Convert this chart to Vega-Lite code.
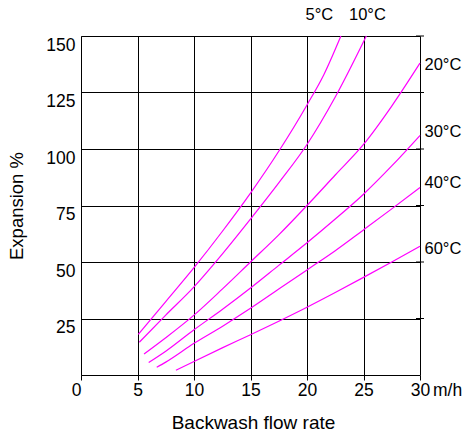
{
  "$schema": "https://vega.github.io/schema/vega-lite/v6.json",
  "width": 339,
  "height": 339,
  "autosize": {"type": "none"},
  "padding": {"left": 81, "top": 36, "right": 44, "bottom": 59},
  "background": "white",
  "config": {"view": {"stroke": null}, "font": "Liberation Sans"},
  "datasets": {
    "curves": [
      {"temp": "5°C", "flow": 5.07, "expansion": 18},
      {"temp": "5°C", "flow": 7.5, "expansion": 32.5},
      {"temp": "5°C", "flow": 10, "expansion": 47.5},
      {"temp": "5°C", "flow": 12.5, "expansion": 63.5},
      {"temp": "5°C", "flow": 15, "expansion": 80.5},
      {"temp": "5°C", "flow": 17.5, "expansion": 99},
      {"temp": "5°C", "flow": 20, "expansion": 119.5},
      {"temp": "5°C", "flow": 21.5, "expansion": 133},
      {"temp": "5°C", "flow": 23, "expansion": 150},
      {"temp": "10°C", "flow": 5.16, "expansion": 14.5},
      {"temp": "10°C", "flow": 7.5, "expansion": 26.5},
      {"temp": "10°C", "flow": 10, "expansion": 39},
      {"temp": "10°C", "flow": 12.5, "expansion": 53.5},
      {"temp": "10°C", "flow": 15, "expansion": 69},
      {"temp": "10°C", "flow": 17.5, "expansion": 85},
      {"temp": "10°C", "flow": 20, "expansion": 102},
      {"temp": "10°C", "flow": 22.5, "expansion": 123},
      {"temp": "10°C", "flow": 25.25, "expansion": 150},
      {"temp": "20°C", "flow": 5.58, "expansion": 9.3},
      {"temp": "20°C", "flow": 7.5, "expansion": 16.5},
      {"temp": "20°C", "flow": 10, "expansion": 26.5},
      {"temp": "20°C", "flow": 12.5, "expansion": 38},
      {"temp": "20°C", "flow": 15, "expansion": 50},
      {"temp": "20°C", "flow": 17.5, "expansion": 62},
      {"temp": "20°C", "flow": 20, "expansion": 75},
      {"temp": "20°C", "flow": 22.5, "expansion": 88.5},
      {"temp": "20°C", "flow": 25, "expansion": 102},
      {"temp": "20°C", "flow": 27.5, "expansion": 119},
      {"temp": "20°C", "flow": 30, "expansion": 138},
      {"temp": "30°C", "flow": 5.99, "expansion": 5.5},
      {"temp": "30°C", "flow": 7.5, "expansion": 10.5},
      {"temp": "30°C", "flow": 10, "expansion": 20},
      {"temp": "30°C", "flow": 12.5, "expansion": 29},
      {"temp": "30°C", "flow": 15, "expansion": 38.5},
      {"temp": "30°C", "flow": 17.5, "expansion": 48.5},
      {"temp": "30°C", "flow": 20, "expansion": 58.5},
      {"temp": "30°C", "flow": 22.5, "expansion": 69},
      {"temp": "30°C", "flow": 25, "expansion": 80},
      {"temp": "30°C", "flow": 27.5, "expansion": 92.5},
      {"temp": "30°C", "flow": 30, "expansion": 106},
      {"temp": "40°C", "flow": 6.7, "expansion": 3.4},
      {"temp": "40°C", "flow": 7.5, "expansion": 5.7},
      {"temp": "40°C", "flow": 10, "expansion": 14},
      {"temp": "40°C", "flow": 12.5, "expansion": 21.5},
      {"temp": "40°C", "flow": 15, "expansion": 29.5},
      {"temp": "40°C", "flow": 17.5, "expansion": 38},
      {"temp": "40°C", "flow": 20, "expansion": 46.5},
      {"temp": "40°C", "flow": 22.5, "expansion": 55},
      {"temp": "40°C", "flow": 25, "expansion": 64.2},
      {"temp": "40°C", "flow": 27.5, "expansion": 73.5},
      {"temp": "40°C", "flow": 30, "expansion": 83},
      {"temp": "60°C", "flow": 8.4, "expansion": 2.1},
      {"temp": "60°C", "flow": 10, "expansion": 6},
      {"temp": "60°C", "flow": 12.5, "expansion": 12},
      {"temp": "60°C", "flow": 15, "expansion": 17.8},
      {"temp": "60°C", "flow": 17.5, "expansion": 23.8},
      {"temp": "60°C", "flow": 20, "expansion": 30},
      {"temp": "60°C", "flow": 22.5, "expansion": 36.5},
      {"temp": "60°C", "flow": 25, "expansion": 43.2},
      {"temp": "60°C", "flow": 27.5, "expansion": 50},
      {"temp": "60°C", "flow": 30, "expansion": 57}
    ],
    "toplabels": [
      {"temp": "5°C", "flow": 21.1, "expansion": 159.3},
      {"temp": "10°C", "flow": 25.35, "expansion": 159.3}
    ],
    "rightlabels": [
      {"temp": "20°C", "flow": 30, "expansion": 137.2},
      {"temp": "30°C", "flow": 30, "expansion": 107.4},
      {"temp": "40°C", "flow": 30, "expansion": 85.1},
      {"temp": "60°C", "flow": 30, "expansion": 55.9}
    ],
    "righticks": [
      {"flow": 30, "expansion": 25},
      {"flow": 30, "expansion": 50},
      {"flow": 30, "expansion": 75},
      {"flow": 30, "expansion": 100},
      {"flow": 30, "expansion": 125},
      {"flow": 30, "expansion": 150}
    ],
    "unit": [
      {"temp": "m/h", "flow": 30, "expansion": 0}
    ]
  },
  "encoding": {
    "x": {
      "field": "flow", "type": "quantitative",
      "scale": {"domain": [0, 30], "nice": false, "zero": false},
      "axis": {
        "orient": "bottom",
        "values": [0, 5, 10, 15, 20, 25, 30],
        "grid": true, "gridColor": "#000000", "gridWidth": 1, "gridOpacity": 1,
        "domain": true, "domainColor": "#000000", "domainWidth": 1,
        "ticks": true, "tickSize": 5, "tickColor": "#000000", "tickWidth": 1,
        "labelFont": "Liberation Sans", "labelFontSize": 17.5, "labelColor": "#000000",
        "labelPadding": 1.5, "labelBaseline": "top", "labelFlush": false, "labelOverlap": false,
        "labelAlign": {"condition": {"test": "datum.value == 0", "value": "right"}, "value": "center"},
        "title": "Backwash flow rate",
        "titleFont": "Liberation Sans", "titleFontSize": 19, "titleFontWeight": "normal", "titleColor": "#000000",
        "titleX": 172, "titleY": 53, "titleAlign": "center", "titleBaseline": "alphabetic"
      }
    },
    "y": {
      "field": "expansion", "type": "quantitative",
      "scale": {"domain": [0, 150], "nice": false, "zero": false},
      "axis": {
        "orient": "left",
        "values": [25, 50, 75, 100, 125, 150],
        "grid": true, "gridColor": "#000000", "gridWidth": 1, "gridOpacity": 1,
        "domain": true, "domainColor": "#000000", "domainWidth": 1,
        "ticks": false,
        "labelFont": "Liberation Sans", "labelFontSize": 17.5, "labelColor": "#000000",
        "labelPadding": 6, "labelBaseline": "top", "labelAlign": "right", "labelFlush": false, "labelOverlap": false,
        "title": "Expansion %",
        "titleFont": "Liberation Sans", "titleFontSize": 18.5, "titleFontWeight": "normal", "titleColor": "#000000",
        "titleX": -64.5, "titleY": 169.5, "titleAngle": 270, "titleAlign": "center", "titleBaseline": "middle"
      }
    }
  },
  "layer": [
    {
      "data": {"name": "curves"},
      "mark": {"type": "line", "color": "#ff00ff", "strokeWidth": 1.2, "interpolate": "monotone"},
      "encoding": {
        "detail": {"field": "temp", "type": "nominal"}
      }
    },
    {
      "data": {"name": "righticks"},
      "mark": {"type": "tick", "orient": "horizontal", "size": 8, "thickness": 1, "color": "#000000", "opacity": 1},
      "encoding": {}
    },
    {
      "data": {"name": "rightlabels"},
      "mark": {"type": "text", "align": "left", "baseline": "middle", "dx": 4.5, "fontSize": 16.5, "font": "Liberation Sans", "color": "#000000"},
      "encoding": {
        "text": {"field": "temp", "type": "nominal"}
      }
    },
    {
      "data": {"name": "toplabels"},
      "mark": {"type": "text", "align": "center", "baseline": "middle", "fontSize": 16.5, "font": "Liberation Sans", "color": "#000000"},
      "encoding": {
        "text": {"field": "temp", "type": "nominal"}
      }
    },
    {
      "data": {"name": "unit"},
      "mark": {"type": "text", "align": "left", "baseline": "alphabetic", "dx": 13, "dy": 20.5, "fontSize": 17.5, "font": "Liberation Sans", "color": "#000000"},
      "encoding": {
        "text": {"field": "temp", "type": "nominal"}
      }
    }
  ]
}
